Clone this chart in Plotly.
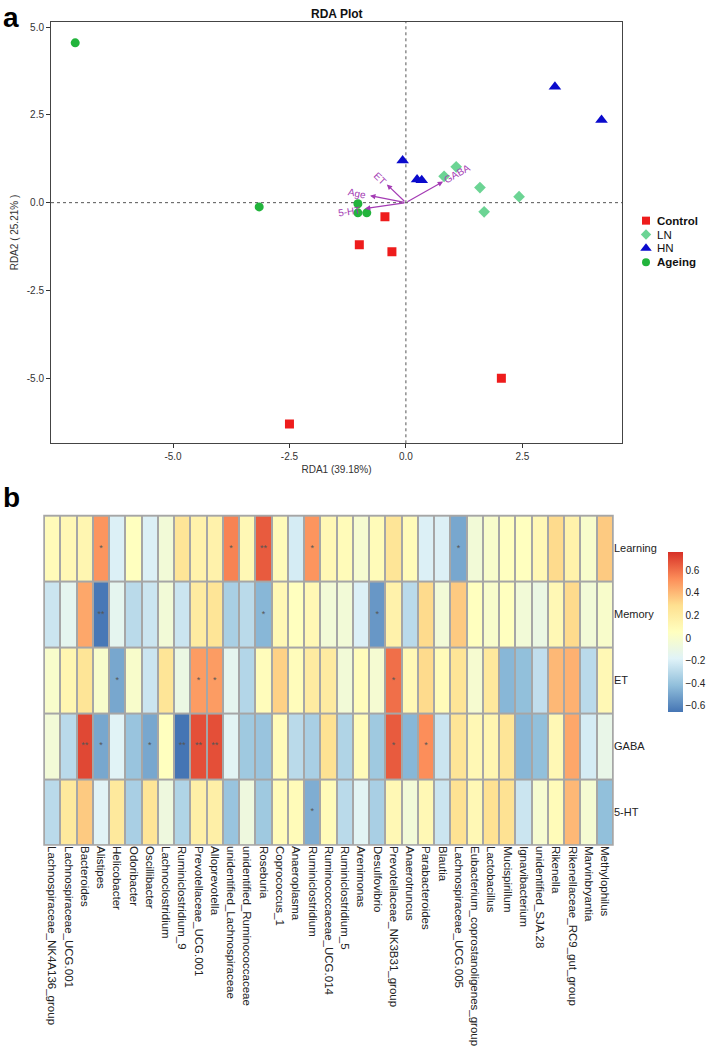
import math
import plotly.graph_objects as go

W, H = 709, 1046

# ---------------- RDA sample scores ----------------
control_x = [-2.5, 2.05, -1.0, -0.3, -0.45]
control_y = [-6.3, -5.0, -1.2, -1.4, -0.4]
ln_x = [1.08, 0.82, 1.59, 1.68, 2.43]
ln_y = [1.02, 0.75, 0.43, -0.26, 0.17]
hn_x = [3.2, 4.2, -0.07, 0.24, 0.34]
hn_y = [3.3, 2.35, 1.2, 0.66, 0.64]
ageing_x = [-7.1, -3.15, -1.03, -1.03, -0.84]
ageing_y = [4.55, -0.12, -0.03, -0.29, -0.29]

# environmental arrows (biplot scores)
env_names = ["ET", "Age", "5-HT", "GABA"]
env_x = [-0.41, -0.77, -0.88, 0.80]
env_y = [0.52, 0.20, -0.17, 0.60]

x_ticks = [-5.0, -2.5, 0.0, 2.5]
y_ticks = [5.0, 2.5, 0.0, -2.5, -5.0]

# ---------------- Heatmap data ----------------
genera = [
    "Lachnospiraceae_NK4A136_group", "Lachnospiraceae_UCG.001", "Bacteroides",
    "Alistipes", "Helicobacter", "Odoribacter", "Oscillibacter",
    "Lachnoclostridium", "Ruminiclostridium_9", "Prevotellaceae_UCG.001",
    "Alloprevotella", "unidentified_Lachnospiraceae",
    "unidentified_Ruminococcaceae", "Roseburia", "Coprococcus_1",
    "Anaeroplasma", "Ruminiclostridium", "Ruminococcaceae_UCG.014",
    "Ruminiclostridium_5", "Arenimonas", "Desulfovibrio",
    "Prevotellaceae_NK3B31_group", "Anaerotruncus", "Parabacteroides",
    "Blautia", "Lachnospiraceae_UCG.005",
    "Eubacterium_coprostanoligenes_group", "Lactobacillus", "Mucispirillum",
    "Ignavibacterium", "unidentified_SJA.28", "Rikenella",
    "Rikenellaceae_RC9_gut_group", "Marvinbryantia", "Methylophilus",
]
indices = ["Learning", "Memory", "ET", "GABA", "5-HT"]

learning = [0.08, 0.10, 0.12, 0.50, -0.20, 0.05, -0.20, -0.05, 0.25, 0.15,
            0.15, 0.55, 0.10, 0.65, 0.08, -0.22, 0.50, 0.10, 0.08, -0.02,
            0.08, 0.25, 0.08, -0.20, -0.20, -0.50, -0.05, 0.00, 0.05, 0.05,
            0.10, 0.30, 0.15, 0.00, 0.35]
memory = [-0.25, -0.15, 0.45, -0.65, -0.15, -0.30, -0.25, -0.05, -0.25, 0.20,
          0.25, -0.35, -0.30, -0.45, 0.10, 0.05, 0.10, -0.05, -0.05, -0.20,
          -0.55, 0.15, -0.30, 0.30, -0.05, 0.35, 0.05, 0.00, 0.05, -0.05,
          -0.10, 0.10, 0.30, -0.05, 0.00]
et = [0.00, 0.12, 0.25, 0.00, -0.50, 0.00, -0.25, 0.25, -0.10, 0.48,
      0.48, -0.15, -0.32, 0.07, 0.33, 0.07, 0.20, 0.20, -0.05, 0.07,
      -0.03, 0.60, 0.10, 0.30, 0.08, 0.25, -0.02, 0.22, -0.45, -0.42,
      -0.28, 0.40, 0.42, -0.30, 0.10]
gaba = [-0.05, -0.30, 0.70, -0.50, -0.18, -0.40, -0.50, 0.05, -0.66, 0.68,
        0.68, -0.17, -0.38, -0.40, 0.08, -0.30, -0.35, 0.27, -0.33, 0.08,
        -0.38, 0.65, -0.45, 0.52, -0.25, 0.25, 0.10, 0.12, 0.25, -0.45,
        -0.42, 0.10, 0.45, -0.22, -0.12]
ht5 = [-0.30, 0.22, 0.35, -0.18, 0.22, -0.35, 0.25, -0.08, -0.33, 0.17,
       0.17, -0.40, -0.08, -0.38, 0.08, 0.08, -0.48, 0.08, -0.30, -0.17,
       -0.35, 0.10, -0.05, 0.10, -0.25, 0.27, 0.10, 0.27, 0.27, -0.25,
       -0.02, 0.08, 0.40, -0.03, -0.42]

# significance marks: (column index, mark)
learning_sig = [(3, "*"), (11, "*"), (13, "**"), (16, "*"), (25, "*")]
memory_sig = [(3, "**"), (13, "*"), (20, "*")]
et_sig = [(4, "*"), (9, "*"), (10, "*"), (21, "*")]
gaba_sig = [(2, "**"), (3, "*"), (6, "*"), (8, "**"), (9, "**"), (10, "**"),
            (21, "*"), (23, "*")]
ht5_sig = [(16, "*")]

cbar_ticks = [0.6, 0.4, 0.2, 0.0, -0.2, -0.4, -0.6]

# ---------------- geometry helpers (pixels -> paper) ----------------
def fx(p):
    return p / W


def fy(p):
    return 1 - p / H


A_L, A_R, A_T, A_B = 51, 622, 22, 448      # RDA panel box
X_RANGE = [-7.62, 4.64]
Y_RANGE = [-6.85, 5.15]
B_L, B_R, B_T, B_B = 44, 613, 521, 854     # heatmap box

FONT = "Liberation Sans, Arial, sans-serif"
PURPLE = "#A43CB4"

fig = go.Figure()

# ---------------- panel a ----------------
groups = [
    ("<b>Control</b>", control_x, control_y, "square", "#EE1C1C", 9, 8),
    ("LN", ln_x, ln_y, "diamond", "#6CD494", 9, 8),
    ("HN", hn_x, hn_y, "triangle-up", "#0A0ACC", 11, 10),
    ("<b>Ageing</b>", ageing_x, ageing_y, "circle", "#22B43C", 9, 8),
]
for name, xs, ys, sym, col, sz, lsz in groups:
    fig.add_trace(go.Scatter(
        x=xs, y=ys, mode="markers", name=name, showlegend=False,
        marker=dict(symbol=sym, color=col, size=sz, line=dict(width=0)),
        xaxis="x", yaxis="y",
    ))

annotations = []
shapes = []

# hand-drawn legend on a pixel-coordinate overlay axis
leg_x_marker, leg_x_text, leg_y0, leg_dy = 646, 655, 223, 14
for i, (name, xs, ys, sym, col, sz, lsz) in enumerate(groups):
    yy = leg_y0 + i * leg_dy
    fig.add_trace(go.Scatter(
        x=[leg_x_marker], y=[yy], mode="markers", showlegend=False,
        marker=dict(symbol=sym, color=col, size=lsz, line=dict(width=0)),
        xaxis="x3", yaxis="y3", hoverinfo="skip", cliponaxis=False,
    ))
    annotations.append(dict(
        x=leg_x_text, y=yy, xref="x3", yref="y3", text=name, showarrow=False,
        xanchor="left", yanchor="middle",
        font=dict(size=11.5, color="#111", family=FONT),
    ))

# dotted zero lines
shapes.append(dict(type="line", xref="x", yref="y domain", x0=0, x1=0, y0=0, y1=1,
                   line=dict(color="#555", width=1, dash="dot"), layer="below"))
shapes.append(dict(type="line", xref="x domain", yref="y", x0=0, x1=1, y0=0, y1=0,
                   line=dict(color="#555", width=1, dash="dot"), layer="below"))

sx = (A_R - A_L) / (X_RANGE[1] - X_RANGE[0])
sy = (A_B - A_T) / (Y_RANGE[1] - Y_RANGE[0])
for name, ex, ey in zip(env_names, env_x, env_y):
    annotations.append(dict(
        x=ex, y=ey, ax=0, ay=0, xref="x", yref="y", axref="x", ayref="y",
        showarrow=True, arrowhead=2, arrowsize=0.9, arrowwidth=1.2,
        arrowcolor=PURPLE, text="",
    ))
    dxp, dyp = ex * sx, -ey * sy
    ang = math.degrees(math.atan2(dyp, dxp))
    if ang > 90:
        ang -= 180
    if ang < -90:
        ang += 180
    norm = math.hypot(dxp, dyp)
    off = 3.6 * len(name) + 2
    lx = ex + dxp / norm * off / sx
    ly = ey - dyp / norm * off / sy
    annotations.append(dict(
        x=lx, y=ly, xref="x", yref="y", text=name, showarrow=False,
        textangle=ang, font=dict(size=10, color=PURPLE, family=FONT),
        xanchor="center", yanchor="middle",
    ))

annotations.append(dict(
    x=fx((A_L + A_R) / 2), y=fy(14), xref="paper", yref="paper",
    text="<b>RDA Plot</b>", showarrow=False, xanchor="center", yanchor="middle",
    font=dict(size=12, color="#111", family=FONT),
))
annotations.append(dict(
    x=fx(1), y=1, xref="paper", yref="paper", text="<b>a</b>",
    showarrow=False, xanchor="left", yanchor="top", yshift=0,
    font=dict(size=28, color="#000", family=FONT),
))
annotations.append(dict(
    x=fx(1), y=fy(503), xref="paper", yref="paper", text="<b>b</b>",
    showarrow=False, xanchor="left", yanchor="middle",
    font=dict(size=28, color="#000", family=FONT),
))

# ---------------- panel b ----------------
z = [learning, memory, et, gaba, ht5]
colorscale = [
    [0.0, "#4575B4"], [1 / 6, "#91BFDB"], [2 / 6, "#E0F3F8"], [3 / 6, "#FFFFBF"],
    [4 / 6, "#FEE090"], [5 / 6, "#FC8D59"], [1.0, "#D73027"],
]
cb_top, cb_bot = 558, 720
fig.add_trace(go.Heatmap(
    z=z, x=genera, y=indices, xaxis="x2", yaxis="y2",
    colorscale=colorscale, zmin=-0.66, zmax=0.76, xgap=2, ygap=2,
    hoverinfo="skip",
    colorbar=dict(
        x=fx(668), xanchor="left", xpad=0, ypad=0,
        y=fy(cb_bot), yanchor="bottom", len=(cb_bot - cb_top) / H,
        lenmode="fraction", thickness=15, thicknessmode="pixels",
        outlinewidth=0, tickvals=cbar_ticks,
        ticktext=["0.6", "0.4", "0.2", "0", "\u22120.2", "\u22120.4", "\u22120.6"],
        ticks="", tickfont=dict(size=10, color="#222", family=FONT),
    ),
))

sig_x, sig_y, sig_t = [], [], []
for rname, sigs in zip(indices, [learning_sig, memory_sig, et_sig, gaba_sig, ht5_sig]):
    for ci, mark in sigs:
        sig_x.append(genera[ci])
        sig_y.append(rname)
        sig_t.append(mark)
fig.add_trace(go.Scatter(
    x=sig_x, y=sig_y, text=sig_t, mode="text", xaxis="x2", yaxis="y2",
    textposition="middle center", showlegend=False, hoverinfo="skip",
    textfont=dict(size=9, color="#555", family=FONT),
))

# grey grid background & border
shapes.append(dict(type="rect", xref="x2 domain", yref="y2 domain", x0=0, x1=1,
                   y0=0, y1=1, fillcolor="#A6A6A6", line=dict(width=0), layer="below"))
shapes.append(dict(type="rect", xref="x2 domain", yref="y2 domain", x0=0, x1=1,
                   y0=0, y1=1, fillcolor="rgba(0,0,0,0)",
                   line=dict(width=1.5, color="#A6A6A6"), layer="above"))

axis_font = dict(size=10, color="#333", family=FONT)
fig.update_layout(
    width=W, height=H, margin=dict(l=0, r=0, t=0, b=0),
    paper_bgcolor="white", plot_bgcolor="rgba(0,0,0,0)",
    font=dict(family=FONT, color="#222"),
    showlegend=False,
    xaxis=dict(domain=[fx(A_L), fx(A_R)], range=X_RANGE, anchor="y",
               tickvals=x_ticks, ticktext=["%.1f" % v for v in x_ticks],
               ticks="outside", ticklen=4, tickcolor="#333", showline=True,
               mirror=True, linecolor="#444", linewidth=1, showgrid=False,
               zeroline=False, tickfont=axis_font,
               title=dict(text="RDA1 (39.18%)", font=axis_font, standoff=4)),
    yaxis=dict(domain=[fy(A_B), fy(A_T)], range=Y_RANGE, anchor="x",
               tickvals=y_ticks, ticktext=["%.1f" % v for v in y_ticks],
               ticks="outside", ticklen=4, tickcolor="#333", showline=True,
               mirror=True, linecolor="#444", linewidth=1, showgrid=False,
               zeroline=False, tickfont=axis_font,
               title=dict(text="RDA2 ( 25.21% )", font=axis_font, standoff=6)),
    xaxis2=dict(domain=[fx(B_L), fx(B_R)], anchor="y2", tickangle=90,
                ticks="", showgrid=False, zeroline=False, showline=False,
                tickfont=dict(size=11.5, color="#222", family=FONT)),
    yaxis2=dict(domain=[fy(B_B), fy(B_T)], anchor="x2", side="right",
                autorange="reversed", ticks="", showgrid=False, zeroline=False,
                showline=False, tickfont=dict(size=11, color="#222", family=FONT)),
    xaxis3=dict(domain=[0, 1], range=[0, W], anchor="y3", visible=False,
                fixedrange=True),
    yaxis3=dict(domain=[0, 1], range=[H, 0], anchor="x3", visible=False,
                fixedrange=True),
    annotations=annotations, shapes=shapes,
)

fig.write_html(
    "out.html",
    config={"displayModeBar": False},
    post_script="document.body.style.margin='0';document.body.style.overflow='hidden';",
)
